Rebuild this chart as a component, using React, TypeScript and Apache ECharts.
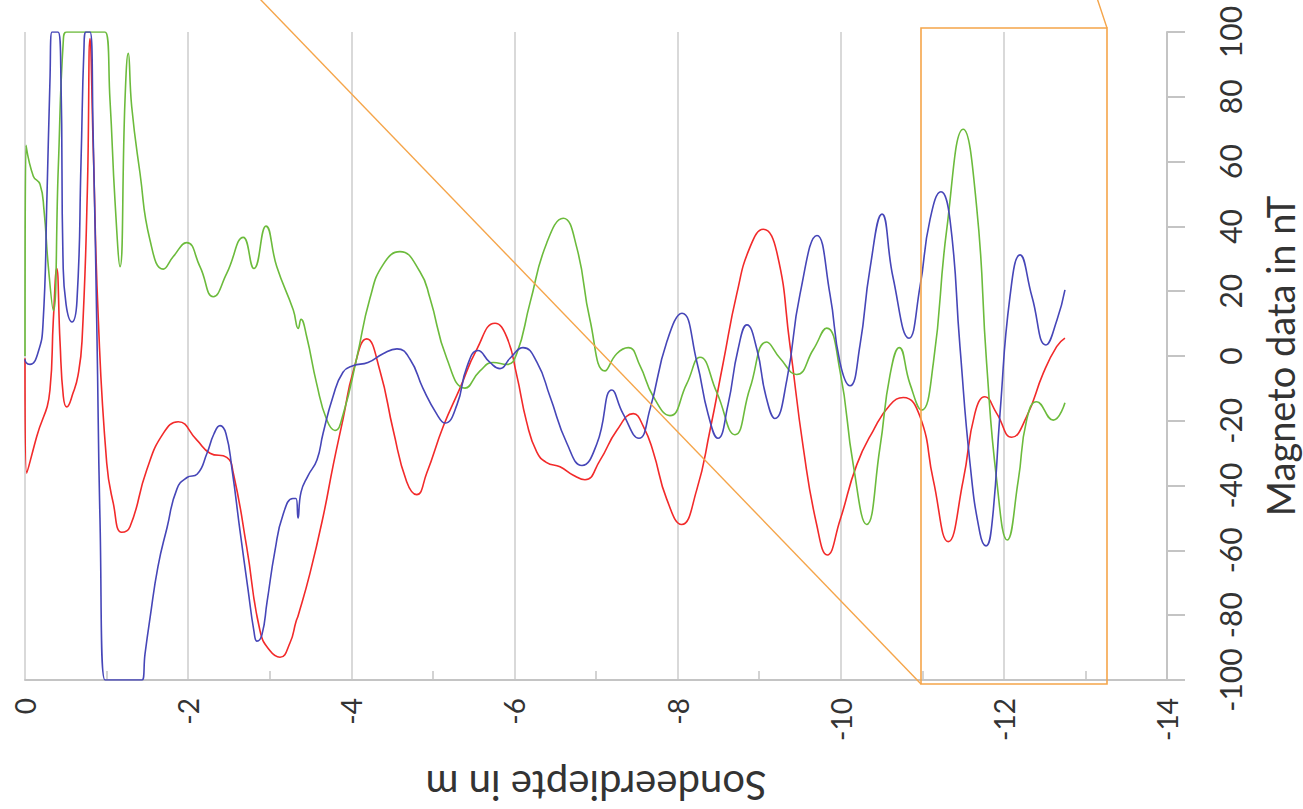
import React, { useEffect, useRef } from "react";
import * as echarts from "echarts";

// [depth in m, magneto value in nT]
const redSeries: [number, number][] = [
  [0, -0.7], [-0.021, -36.2], [-0.143, -24.9], [-0.306, -10.5], [-0.347, 11], [-0.389, 27],
  [-0.429, 4.6], [-0.47, -12.5], [-0.511, -15.7], [-0.592, -11.2], [-0.65, -6], [-0.699, 4.6],
  [-0.764, 50.7], [-0.797, 98], [-0.837, 63.8], [-0.899, 11.2], [-1.002, -33.1], [-1.082, -45.4],
  [-1.185, -54.4], [-1.287, -52.7], [-1.492, -35.2], [-1.695, -23.9], [-1.879, -20.3],
  [-2.105, -25.9], [-2.268, -30], [-2.473, -31.3], [-2.554, -36.2], [-2.718, -59], [-2.881, -84.8],
  [-3.004, -91], [-3.126, -93], [-3.249, -88.5], [-3.322, -82], [-3.35, -80], [-3.494, -67],
  [-3.657, -49.3], [-3.779, -33.6], [-3.902, -19.1], [-4.025, -4.6], [-4.189, 5.3], [-4.352, -4.6],
  [-4.515, -23], [-4.679, -38.8], [-4.802, -42.8], [-4.924, -36.2], [-5.128, -21.7], [-5.333, -9.9],
  [-5.537, 2], [-5.762, 10.1], [-5.905, 5.9], [-6.028, -5.9], [-6.15, -20.4], [-6.273, -29.6],
  [-6.396, -32.9], [-6.559, -34.2], [-6.722, -36.8], [-6.865, -38.2], [-7.049, -32.2], [-7.254, -23],
  [-7.457, -17.8], [-7.58, -21.7], [-7.702, -29.6], [-7.866, -44.1], [-8.05, -52], [-8.234, -41.4],
  [-8.397, -23], [-8.56, -2], [-8.725, 19.1], [-8.888, 33.6], [-9.051, 39.1], [-9.215, 32.2],
  [-9.378, 3.3], [-9.541, -28.3], [-9.705, -52], [-9.835, -61.4], [-9.991, -50.7], [-10.196, -33.6],
  [-10.399, -23], [-10.604, -15.1], [-10.767, -12.8], [-10.972, -18.7], [-11.135, -38.3],
  [-11.318, -57.3], [-11.502, -38.3], [-11.645, -17.7], [-11.768, -12.6], [-11.912, -17.7],
  [-12.096, -25.1], [-12.279, -18.7], [-12.483, -5.3], [-12.647, 2.9], [-12.749, 5.5],
];

const blueSeries: [number, number][] = [
  [0, -1], [-0.012, -2], [-0.061, -2.6], [-0.159, 1], [-0.221, 10], [-0.27, 50], [-0.306, 85],
  [-0.331, 100], [-0.405, 100], [-0.441, 85], [-0.466, 30], [-0.503, 16], [-0.576, 10.5],
  [-0.637, 17], [-0.687, 60], [-0.723, 95], [-0.748, 100], [-0.797, 100], [-0.834, 70], [-0.883, 5],
  [-0.919, -50], [-0.981, -100], [-1.434, -100], [-1.471, -92], [-1.532, -81], [-1.63, -65],
  [-1.741, -53], [-1.863, -41], [-1.986, -37.5], [-2.109, -36.5], [-2.231, -30], [-2.317, -24],
  [-2.391, -21.5], [-2.464, -24], [-2.538, -35], [-2.636, -54], [-2.734, -72], [-2.807, -85],
  [-2.844, -88], [-2.905, -86], [-2.967, -76], [-3.065, -60], [-3.163, -49], [-3.285, -44],
  [-3.322, -44], [-3.347, -50], [-3.384, -42], [-3.469, -37], [-3.58, -32], [-3.653, -24],
  [-3.776, -12.5], [-3.898, -5], [-4.021, -3], [-4.205, -2], [-4.389, 0.7], [-4.56, 2.2],
  [-4.72, -1], [-4.879, -10], [-5.05, -18], [-5.149, -20.7], [-5.296, -15], [-5.418, -3.3],
  [-5.553, 1.7], [-5.7, -2], [-5.823, -3.9], [-5.946, -0.7], [-6.105, 2.6], [-6.277, -2],
  [-6.436, -12.5], [-6.644, -27], [-6.828, -33.8], [-7.012, -27], [-7.196, -10.5], [-7.331, -17.8],
  [-7.527, -25.4], [-7.662, -16.4], [-7.871, 4.6], [-8.054, 13.2], [-8.238, -2], [-8.373, -17.8],
  [-8.495, -25.4], [-8.618, -15.1], [-8.741, 2], [-8.851, 9.6], [-8.973, 2], [-9.084, -12.5],
  [-9.194, -19.3], [-9.341, -7.2], [-9.501, 19.1], [-9.709, 37.2], [-9.868, 19.1], [-9.991, -2],
  [-10.114, -9.2], [-10.236, 3.3], [-10.359, 27], [-10.506, 43.8], [-10.641, 24.3], [-10.837, 5.5],
  [-10.972, 21.4], [-11.094, 42], [-11.229, 50.7], [-11.34, 42], [-11.462, 2.9], [-11.585, -33.1],
  [-11.707, -54.7], [-11.781, -58.6], [-11.855, -51.6], [-11.953, -17.7], [-12.075, 18.3],
  [-12.198, 31.2], [-12.345, 18.3], [-12.516, 3.4], [-12.651, 11.1], [-12.749, 20.4],
];

const greenSeries: [number, number][] = [
  [0, 0], [-0.012, 65], [-0.102, 55.5], [-0.184, 53], [-0.233, 45], [-0.286, 27.6], [-0.347, 14],
  [-0.408, 58], [-0.47, 97.5], [-0.511, 100], [-0.981, 100], [-1.042, 79], [-1.103, 48],
  [-1.165, 27.6], [-1.226, 79], [-1.266, 93.4], [-1.308, 77], [-1.41, 56.4], [-1.532, 35.8],
  [-1.695, 26.8], [-1.818, 30.7], [-1.982, 35], [-2.145, 27.6], [-2.308, 18.3], [-2.473, 25.5],
  [-2.676, 36.6], [-2.807, 27], [-2.954, 40.1], [-3.086, 27.6], [-3.289, 14.2], [-3.35, 8.5],
  [-3.384, 11.3], [-3.453, 6], [-3.576, -8.6], [-3.699, -19.7], [-3.8, -23], [-3.902, -17.8],
  [-4.066, -0.7], [-4.229, 17.8], [-4.392, 28.3], [-4.597, 32.2], [-4.842, 26], [-4.965, 17.8],
  [-5.17, -0.7], [-5.394, -9.9], [-5.578, -4.6], [-5.741, -2], [-5.905, -2.6], [-6.028, 0.7],
  [-6.191, 16.4], [-6.396, 34.9], [-6.599, 42.5], [-6.763, 33.6], [-6.926, 11.2], [-7.11, -4.6],
  [-7.254, 0.7], [-7.396, 2.6], [-7.539, -3], [-7.702, -12.5], [-7.907, -18.4], [-8.112, -8.6],
  [-8.275, -0.4], [-8.48, -11.2], [-8.704, -24.3], [-8.888, -9.9], [-9.093, 4.3], [-9.256, -0.7],
  [-9.46, -5.7], [-9.664, 2], [-9.828, 8.6], [-9.991, -4.6], [-10.154, -33.6], [-10.318, -52],
  [-10.481, -28.3], [-10.604, -5.9], [-10.718, 2.6], [-10.849, -8.6], [-10.992, -16.7],
  [-11.135, -2.3], [-11.299, 38.9], [-11.502, 70], [-11.666, 46.1], [-11.789, -2.3],
  [-11.912, -38.3], [-12.042, -56.8], [-12.177, -38.3], [-12.279, -19.8], [-12.402, -14.1],
  [-12.606, -19.8], [-12.749, -14.4],
];

const depthMin = -14;
const depthMax = 0;
const depthStep = 2;
const magnetoMin = -100;
const magnetoMax = 100;
const magnetoStep = 20;
const xAxisName = "Sondeerdiepte in m";
const yAxisName = "Magneto data in nT";

const FONT = "Lato";
const TEXT = "#333333";
const AXIS = "#c4c4c4";
const GRID = "#d9d9d9";
const ORANGE = "#f5a54a";

export default function App() {
  const ref = useRef<HTMLDivElement>(null);
  useEffect(() => {
    if (!ref.current) return;
    const chart = echarts.init(ref.current, null, { renderer: "svg" });
    const mkLine = (data: [number, number][], color: string) => ({
      type: "line",
      data,
      showSymbol: false,
      smooth: 0.5,
      clip: true,
      lineStyle: { color, width: 1.6 },
      itemStyle: { color },
    });
    chart.setOption({
      animation: false,
      backgroundColor: "#ffffff",
      grid: {
        left: 25,
        right: 136,
        top: 32,
        bottom: 129,
        containLabel: false,
        outerBoundsMode: "none",
      },
      xAxis: {
        type: "value",
        min: depthMin,
        max: depthMax,
        interval: depthStep,
        inverse: true,
        name: xAxisName,
        nameLocation: "middle",
        nameGap: 86,
        nameRotate: 180,
        nameTextStyle: { fontSize: 40, fontFamily: FONT, color: TEXT },
        axisLine: { show: true, onZero: false, lineStyle: { color: AXIS, width: 2 } },
        axisTick: { show: false, inside: true },
        minorTick: { show: true, splitNumber: 2, length: 9, lineStyle: { color: AXIS, width: 1.5 } },
        splitLine: { show: true, lineStyle: { color: GRID, width: 2 } },
        axisLabel: { rotate: 90, fontSize: 28, margin: 18, color: TEXT, fontFamily: FONT },
      },
      yAxis: {
        type: "value",
        min: magnetoMin,
        max: magnetoMax,
        interval: magnetoStep,
        position: "right",
        name: yAxisName,
        nameLocation: "middle",
        nameGap: 94,
        nameRotate: 90,
        nameTextStyle: { fontSize: 38, lineHeight: 38, fontFamily: FONT, color: TEXT },
        axisLine: { show: true, onZero: false, lineStyle: { color: AXIS, width: 2 } },
        axisTick: { show: true, length: 18, lineStyle: { color: AXIS, width: 2 } },
        splitLine: { show: false },
        axisLabel: { rotate: 90, fontSize: 30, margin: 48, color: TEXT, fontFamily: FONT },
      },
      graphic: [
        {
          type: "rect",
          z: 100,
          shape: { x: 921, y: 28, width: 186, height: 656 },
          style: { fill: "none", stroke: ORANGE, lineWidth: 1.6 },
        },
        {
          type: "line",
          z: 100,
          shape: { x1: 259, y1: -2, x2: 921, y2: 684 },
          style: { stroke: ORANGE, lineWidth: 1.4 },
        },
        {
          type: "line",
          z: 100,
          shape: { x1: 1107, y1: 28, x2: 1097, y2: -2 },
          style: { stroke: ORANGE, lineWidth: 1.4 },
        },
      ],
      series: [
        mkLine(redSeries, "#f22a2a"),
        mkLine(greenSeries, "#6cbb3c"),
        mkLine(blueSeries, "#4646b8"),
      ],
    });
    return () => chart.dispose();
  }, []);
  return (
    <div
      ref={ref}
      style={{ position: "fixed", left: 0, top: 0, width: 1303, height: 809, background: "#fff" }}
    />
  );
}
